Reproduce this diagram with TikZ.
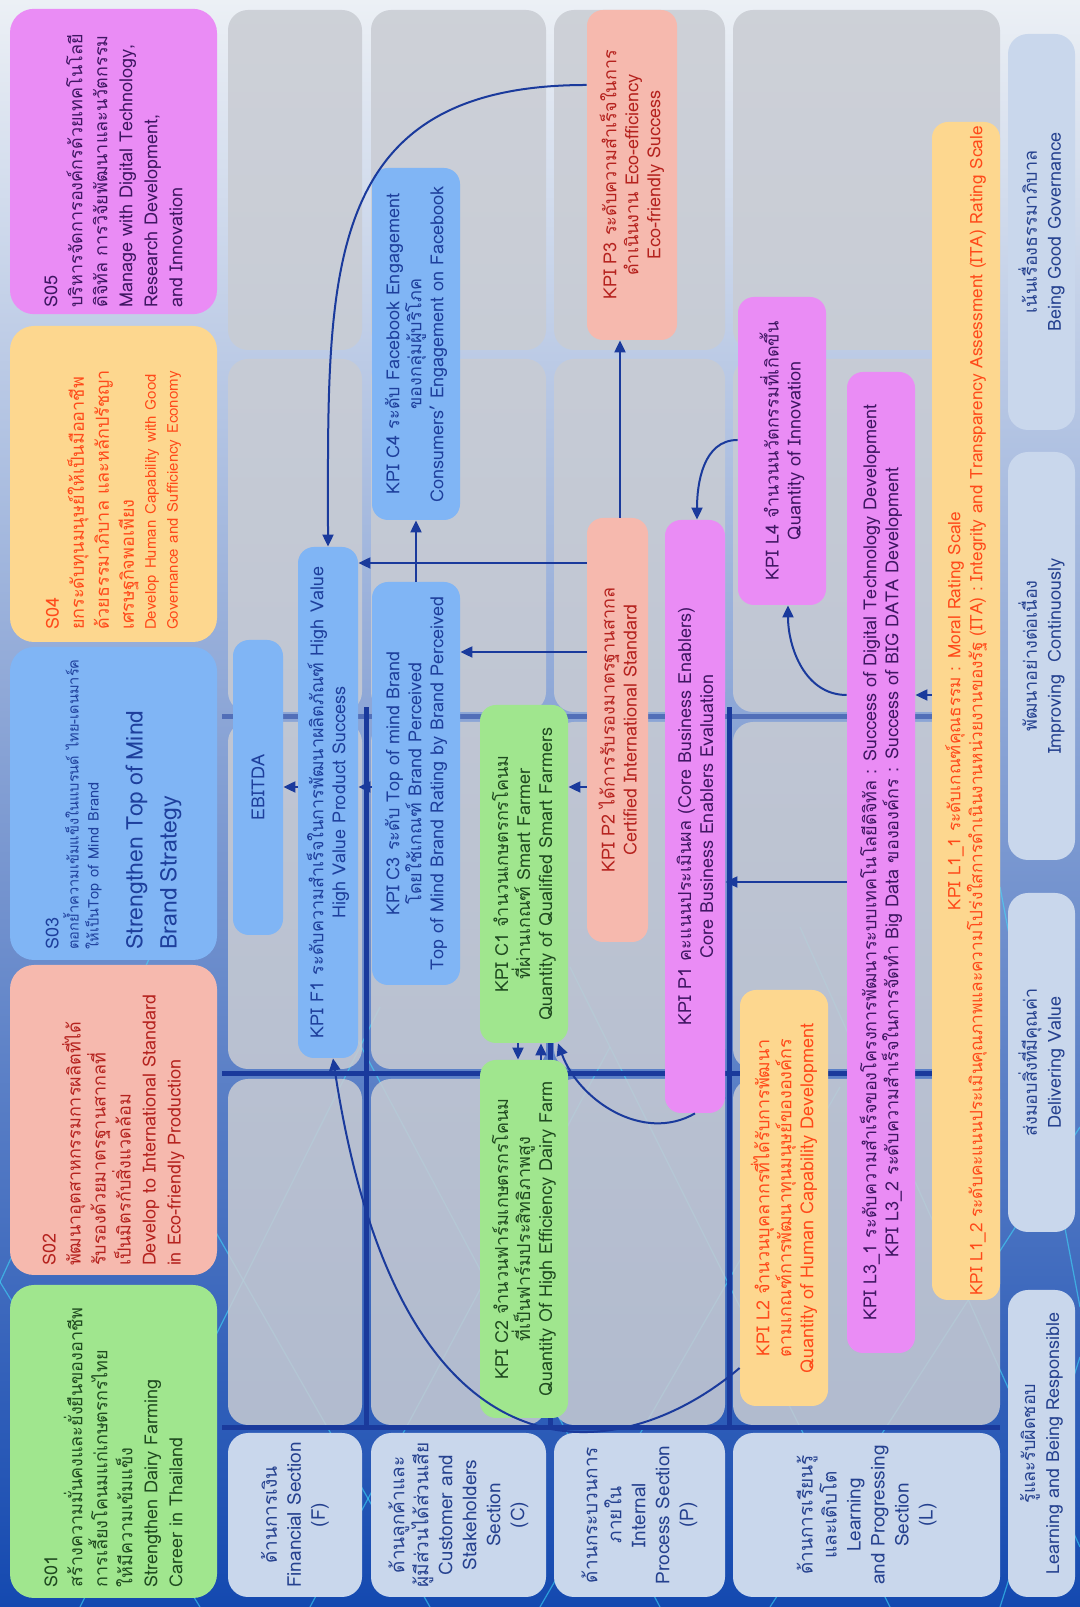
\documentclass[tikz,border=0pt]{standalone}
\usepackage{fontspec}
\setmainfont[Script=Thai]{Loma}
\usetikzlibrary{arrows.meta,calc}
\hyphenpenalty=10000
\exhyphenpenalty=10000

\definecolor{bgdark}{HTML}{1449B0}
\definecolor{bgmid}{HTML}{A9BFE0}
\definecolor{bglight}{HTML}{ECF0F5}
\definecolor{wire}{HTML}{3FE3FF}
\definecolor{cellgray}{HTML}{C9CCD3}
\definecolor{labelblue}{HTML}{C9D7EC}
\definecolor{labeltext}{HTML}{25418F}
\definecolor{linkblue}{HTML}{1A3A9C}
\definecolor{boxgreen}{HTML}{A0E68E}
\definecolor{txtgreen}{HTML}{1F4A1F}
\definecolor{boxpink}{HTML}{F6B9AE}
\definecolor{txtred}{HTML}{B5221E}
\definecolor{boxblue}{HTML}{80B5F5}
\definecolor{txtblue}{HTML}{1E3F9C}
\definecolor{boxyellow}{HTML}{FDD78F}
\definecolor{txtorange}{HTML}{FF4A1A}
\definecolor{boxpurple}{HTML}{EA8CF5}
\definecolor{txtpurple}{HTML}{3F1663}

\begin{document}
\begin{tikzpicture}[x=0.5pt,y=-0.5pt,rotate=90,transform shape,
  wireline/.style={draw=wire,line width=0.6pt,opacity=0.55},
  cell/.style={fill=cellgray,fill opacity=0.85,rounded corners=10pt},
  gap/.style={draw=linkblue,line width=2.5pt},
  section/.style={fill=labelblue,text=labeltext,rounded corners=10pt,align=center,minimum width=82pt,font=\fontsize{9.5}{12}\selectfont},
  value/.style={fill=labelblue,text=labeltext,rounded corners=10pt,align=center,minimum height=33.5pt,font=\fontsize{9}{12}\selectfont},
  goal/.style={rounded corners=12pt,align=left,text width=146pt,minimum height=103.5pt,font=\fontsize{9}{12.5}\selectfont},
  kpi/.style={rounded corners=8pt,align=center,inner sep=2pt,font=\fontsize{9}{11}\selectfont},
  kpiblue/.style={kpi,fill=boxblue,text=txtblue},
  kpigreen/.style={kpi,fill=boxgreen,text=txtgreen},
  kpipink/.style={kpi,fill=boxpink,text=txtred},
  kpiyellow/.style={kpi,fill=boxyellow,text=txtorange},
  kpipurple/.style={kpi,fill=boxpurple,text=txtpurple},
  link/.style={draw=linkblue,line width=1pt,-{Triangle[length=6pt,width=5.5pt]}}]
\useasboundingbox (0,0) rectangle (1607,1080);
\shade[top color=bglight,middle color=bgmid,bottom color=bgdark] (0,0) rectangle (1607,1080);

% wire mesh of the background
\draw[wireline] (0,-150) -- (650,150);
\draw[wireline] (0,80) -- (600,380);
\draw[wireline] (0,310) -- (560,610);
\draw[wireline] (0,540) -- (520,840);
\draw[wireline] (0,770) -- (480,1080);
\draw[wireline] (0,1000) -- (250,1080);
\draw[wireline] (0,200) -- (520,-120);
\draw[wireline] (0,430) -- (560,110);
\draw[wireline] (0,660) -- (600,340);
\draw[wireline] (0,890) -- (640,570);
\draw[wireline] (60,1080) -- (680,800);
\draw[wireline] (300,1080) -- (720,1000);

% lines between the sections
\draw[gap,opacity=0.5] (890,222) -- (890,1000);
\draw[gap] (533,222) -- (533,1000);
\draw[gap] (179,222) -- (179,1000);
\draw[gap] (177,366.5) -- (900,366.5);
\draw[gap] (177,550) -- (900,550);
\draw[gap] (177,729) -- (900,729);

% grid of sections
\fill[cell] (1257,228) rectangle (1597,362);
\fill[cell] (895,228) rectangle (1248,362);
\fill[cell] (538,228) rectangle (885,362);
\fill[cell] (182,228) rectangle (528,362);
\fill[cell] (1257,371) rectangle (1597,546);
\fill[cell] (895,371) rectangle (1248,546);
\fill[cell] (538,371) rectangle (885,546);
\fill[cell] (182,371) rectangle (528,546);
\fill[cell] (1257,554) rectangle (1597,725);
\fill[cell] (895,554) rectangle (1248,725);
\fill[cell] (538,554) rectangle (885,725);
\fill[cell] (182,554) rectangle (528,725);
\fill[cell] (1257,733) rectangle (1597,1000);
\fill[cell] (895,733) rectangle (1248,1000);
\fill[cell] (538,733) rectangle (885,1000);
\fill[cell] (182,733) rectangle (528,1000);

% strategic objectives
\node[goal,fill=boxpurple,text=txtpurple,minimum width=151.5pt] (S05) at (1445.5,113.5) {S05\\
บริหารจัดการองค์กรด้วยเทคโนโลยี\\ ดิจิทัล การวิจัยพัฒนาและนวัตกรรม\\
Manage with Digital Technology,\\ Research Development,\\ and Innovation};
\node[goal,fill=boxyellow,text=txtorange,minimum width=158pt] (S04) at (1123,113.5) {S04\\
ยกระดับทุนมนุษย์ให้เป็นมืออาชีพ\\ ด้วยธรรมาภิบาล และหลักปรัชญา\\ เศรษฐกิจพอเพียง\par
{\fontsize{7.5}{11}\selectfont Develop Human Capability with Good\\ Governance and Sufficiency Economy\par}};
\node[goal,fill=boxblue,text=txtblue,minimum width=156.5pt] (S03) at (803.5,113.5) {S03\\
{\fontsize{7.3}{10}\selectfont ตอกย้ำความเข้มแข็งในแบรนด์ ไทย-เดนมาร์ค\\ ให้เป็นTop of Mind Brand\par}
\vspace{5pt}{\fontsize{11.5}{17}\selectfont Strengthen Top of Mind\\ Brand Strategy\par}};
\node[goal,fill=boxpink,text=txtred,minimum width=155pt] (S02) at (487,113.5) {S02\\
พัฒนาอุตสาหกรรมการผลิตที่ได้\\ รับรองด้วยมาตรฐานสากลที่\\ เป็นมิตรกับสิ่งแวดล้อม\\
Develop to International Standard\\ in Eco-friendly Production};
\node[goal,fill=boxgreen,text=txtgreen,minimum width=156.5pt] (S01) at (165.5,113.5) {S01\\
สร้างความมั่นคงและยั่งยืนของอาชีพ\\ การเลี้ยงโคนมแก่เกษตรกรไทย\\ ให้มีความเข้มแข็ง\\
Strengthen Dairy Farming\\ Career in Thailand};

% perspectives
\node[section,minimum height=67pt] (secF) at (92,295) {ด้านการเงิน\\ Financial Section\\ (F)};
\node[section,minimum height=87.5pt] (secC) at (92,458.5) {ด้านลูกค้าและ\\ ผู้มีส่วนได้ส่วนเสีย\\ Customer and\\ Stakeholders\\ Section\\ (C)};
\node[section,minimum height=85.5pt] (secP) at (92,639.5) {ด้านกระบวนการ\\ ภายใน\\ Internal\\ Process Section\\ (P)};
\node[section,minimum height=133.5pt] (secL) at (92,866.5) {ด้านการเรียนรู้\\ และเติบโต\\ Learning\\ and Progressing\\ Section\\ (L)};

% core values
\node[value,minimum width=198pt] (valG) at (1375,1041.5) {เน้นเรื่องธรรมาภิบาล\\ Being Good Governance};
\node[value,minimum width=204pt] (valI) at (951,1041.5) {พัฒนาอย่างต่อเนื่อง\\ Improving\ \ Continuously};
\node[value,minimum width=169.5pt] (valD) at (544.5,1041.5) {ส่งมอบสิ่งที่มีคุณค่า\\ Delivering Value};
\node[value,minimum width=153.5pt] (valL) at (163.5,1041.5) {รู้และรับผิดชอบ\\ Learning and Being Responsible};

% KPIs
\node[kpiblue,minimum width=147.5pt,minimum height=25pt] (EBITDA) at (819.5,258) {EBITDA};
\node[kpiblue,minimum width=255.5pt,minimum height=30pt] (F1) at (804.5,328) {KPI F1 ระดับความสำเร็จในการพัฒนาผลิตภัณฑ์ High Value\\ High Value Product Success};
\node[kpiblue,minimum width=176pt,minimum height=44pt] (C4) at (1263,416) {KPI C4 ระดับ Facebook Engagement\\ ของกลุ่มผู้บริโภค\\ Consumers' Engagement on Facebook};
\node[kpiblue,minimum width=201.5pt,minimum height=44pt] (C3) at (823.5,416) {KPI C3 ระดับ Top of mind Brand\\ โดยใช้เกณฑ์ Brand Perceived\\ Top of Mind Brand Rating by Brand Perceived};
\node[kpigreen,minimum width=169pt,minimum height=44pt] (C1) at (733,524) {KPI C1 จำนวนเกษตรกรโคนม\\ ที่ผ่านเกณฑ์ Smart Farmer\\ Quantity of Qualified Smart Farmers};
\node[kpigreen,minimum width=179pt,minimum height=44pt] (C2) at (368,524) {KPI C2 จำนวนฟาร์มเกษตรกรโคนม\\ ที่เป็นฟาร์มประสิทธิภาพสูง\\ Quantity Of High Efficiency Dairy Farm};
\node[kpipink,minimum width=165pt,minimum height=45pt] (P3) at (1432,632) {KPI P3 ระดับความสำเร็จในการ\\ ดำเนินงาน Eco-efficiency\\ Eco-friendly Success};
\node[kpipink,minimum width=212pt,minimum height=30.5pt] (P2) at (877,617.5) {KPI P2 ได้การรับรองมาตรฐานสากล\\ Certified International Standard};
\node[kpipurple,minimum width=296.5pt,minimum height=30pt] (P1) at (790.5,695) {KPI P1 คะแนนประเมินผล (Core Business Enablers)\\ Core Business Enablers Evaluation};
\node[kpipurple,minimum width=154pt,minimum height=44pt] (L4) at (1156,782) {KPI L4 จำนวนนวัตกรรมที่เกิดขึ้น\\ Quantity of Innovation};
\node[kpipurple,minimum width=490.5pt,minimum height=34pt] (L3) at (744.5,881) {KPI L3\_1 ระดับความสำเร็จของโครงการพัฒนาระบบเทคโนโลยีดิจิทัล : Success of Digital Technology Development\\ KPI L3\_2 ระดับความสำเร็จในการจัดทำ Big Data ขององค์กร : Success of BIG DATA Development};
\node[kpiyellow,minimum width=208pt,minimum height=44pt] (L2) at (409,784) {KPI L2 จำนวนบุคลากรที่ได้รับการพัฒนา\\ ตามเกณฑ์การพัฒนาทุนมนุษย์ขององค์กร\\ Quantity of Human Capability Development};
\node[kpiyellow,minimum width=589pt,minimum height=34pt,font=\fontsize{8.6}{11}\selectfont] (L1) at (896,966) {KPI L1\_1 ระดับเกณฑ์คุณธรรม : Moral Rating Scale\\ KPI L1\_2 ระดับคะแนนประเมินคุณภาพและความโปร่งใสการดำเนินงานหน่วยงานของรัฐ (ITA) : Integrity and Transparency Assessment (ITA) Rating Scale};

% cause and effect links
\draw[link] ($(P3.north)+(90,0)$) to[out=90,in=0,looseness=1.3] (F1.east);
\draw[link] (C3.east) -- (C4.west);
\draw[link] ($(P2.north)+(167,0)$) -- ($(F1.south)+(239.5,0)$);
\draw[link] ($(P2.north)+(78,0)$) -- ($(C3.south)+(131.5,0)$);
\draw[link] ($(P2.north)+(-57,0)$) -- ($(C1.south)+(87,0)$);
\draw[link] ($(C3.north)+(-3.5,0)$) -- ($(F1.south)+(15.5,0)$);
\draw[link] ($(F1.north)+(15.5,0)$) -- ($(EBITDA.south)+(0.5,0)$);
\draw[link] ($(P2.east)+(0,2.5)$) -- ($(P3.west)+(0,-12)$);
\draw[link] (P1.west) to[out=120,in=200] ($(C1.west)+(0,34)$);
\draw[link] ($(C1.west)+(0,-6)$) -- ($(C2.east)+(0,-6)$);
\draw[link] ($(C2.east)+(0,17)$) -- ($(C1.west)+(0,17)$);
\draw[link] ($(L2.north)+(-170,0)$) .. controls (137,620) and (107,400) .. ($(F1.west)+(0,5)$);
\draw[link] ($(L3.north)+(167.5,0)$) to[out=90,in=180] ($(L4.west)+(0,6)$);
\draw[link] ($(L4.north)+(11,0)$) to[out=90,in=0] ($(P1.east)+(0,2)$);
\draw[link] ($(L3.north)+(-19.5,0)$) -- ($(P1.south)+(-65.5,0)$);
\draw[link] ($(L1.north)+(16,0)$) -- ($(L3.south)+(167.5,0)$);
\end{tikzpicture}
\end{document}
